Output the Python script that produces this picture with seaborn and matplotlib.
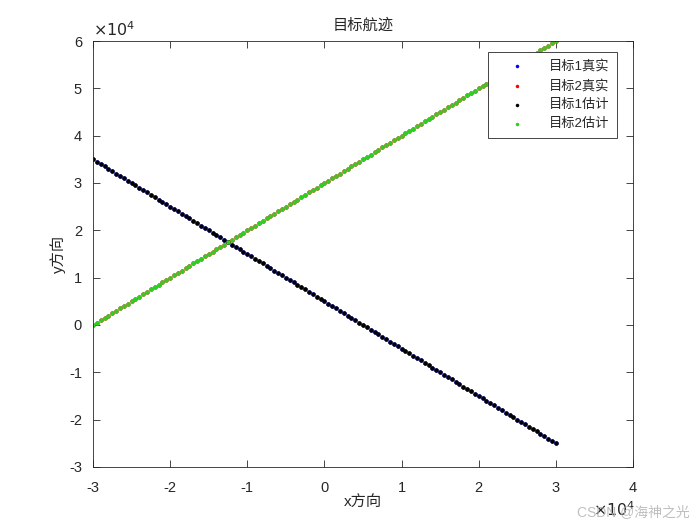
"""
目标航迹: true and estimated tracks of two targets (MATLAB-style figure).
"""
import matplotlib
matplotlib.use("Agg")

import matplotlib.pyplot as plt
import seaborn as sns

# =============================================================================
# Data (positions in units of 1e4 m)
# =============================================================================
x_track = [
    -3.00, -2.95, -2.90, -2.85, -2.80, -2.75, -2.70, -2.65, -2.60, -2.55,
    -2.50, -2.45, -2.40, -2.35, -2.30, -2.25, -2.20, -2.15, -2.10, -2.05,
    -2.00, -1.95, -1.90, -1.85, -1.80, -1.75, -1.70, -1.65, -1.60, -1.55,
    -1.50, -1.45, -1.40, -1.35, -1.30, -1.25, -1.20, -1.15, -1.10, -1.05,
    -1.00, -0.95, -0.90, -0.85, -0.80, -0.75, -0.70, -0.65, -0.60, -0.55,
    -0.50, -0.45, -0.40, -0.35, -0.30, -0.25, -0.20, -0.15, -0.10, -0.05,
    0.00, 0.05, 0.10, 0.15, 0.20, 0.25, 0.30, 0.35, 0.40, 0.45,
    0.50, 0.55, 0.60, 0.65, 0.70, 0.75, 0.80, 0.85, 0.90, 0.95,
    1.00, 1.05, 1.10, 1.15, 1.20, 1.25, 1.30, 1.35, 1.40, 1.45,
    1.50, 1.55, 1.60, 1.65, 1.70, 1.75, 1.80, 1.85, 1.90, 1.95,
    2.00, 2.05, 2.10, 2.15, 2.20, 2.25, 2.30, 2.35, 2.40, 2.45,
    2.50, 2.55, 2.60, 2.65, 2.70, 2.75, 2.80, 2.85, 2.90, 2.95,
    3.00,
]

y_target1 = [
    3.50, 3.45, 3.40, 3.35, 3.30, 3.25, 3.20, 3.15, 3.10, 3.05,
    3.00, 2.95, 2.90, 2.85, 2.80, 2.75, 2.70, 2.65, 2.60, 2.55,
    2.50, 2.45, 2.40, 2.35, 2.30, 2.25, 2.20, 2.15, 2.10, 2.05,
    2.00, 1.95, 1.90, 1.85, 1.80, 1.75, 1.70, 1.65, 1.60, 1.55,
    1.50, 1.45, 1.40, 1.35, 1.30, 1.25, 1.20, 1.15, 1.10, 1.05,
    1.00, 0.95, 0.90, 0.85, 0.80, 0.75, 0.70, 0.65, 0.60, 0.55,
    0.50, 0.45, 0.40, 0.35, 0.30, 0.25, 0.20, 0.15, 0.10, 0.05,
    0.00, -0.05, -0.10, -0.15, -0.20, -0.25, -0.30, -0.35, -0.40, -0.45,
    -0.50, -0.55, -0.60, -0.65, -0.70, -0.75, -0.80, -0.85, -0.90, -0.95,
    -1.00, -1.05, -1.10, -1.15, -1.20, -1.25, -1.30, -1.35, -1.40, -1.45,
    -1.50, -1.55, -1.60, -1.65, -1.70, -1.75, -1.80, -1.85, -1.90, -1.95,
    -2.00, -2.05, -2.10, -2.15, -2.20, -2.25, -2.30, -2.35, -2.40, -2.45,
    -2.50,
]

y_target2 = [
    0.00, 0.05, 0.10, 0.15, 0.20, 0.25, 0.30, 0.35, 0.40, 0.45,
    0.50, 0.55, 0.60, 0.65, 0.70, 0.75, 0.80, 0.85, 0.90, 0.95,
    1.00, 1.05, 1.10, 1.15, 1.20, 1.25, 1.30, 1.35, 1.40, 1.45,
    1.50, 1.55, 1.60, 1.65, 1.70, 1.75, 1.80, 1.85, 1.90, 1.95,
    2.00, 2.05, 2.10, 2.15, 2.20, 2.25, 2.30, 2.35, 2.40, 2.45,
    2.50, 2.55, 2.60, 2.65, 2.70, 2.75, 2.80, 2.85, 2.90, 2.95,
    3.00, 3.05, 3.10, 3.15, 3.20, 3.25, 3.30, 3.35, 3.40, 3.45,
    3.50, 3.55, 3.60, 3.65, 3.70, 3.75, 3.80, 3.85, 3.90, 3.95,
    4.00, 4.05, 4.10, 4.15, 4.20, 4.25, 4.30, 4.35, 4.40, 4.45,
    4.50, 4.55, 4.60, 4.65, 4.70, 4.75, 4.80, 4.85, 4.90, 4.95,
    5.00, 5.05, 5.10, 5.15, 5.20, 5.25, 5.30, 5.35, 5.40, 5.45,
    5.50, 5.55, 5.60, 5.65, 5.70, 5.75, 5.80, 5.85, 5.90, 5.95,
    6.00,
]

# estimates sit on top of the true tracks (errors smaller than a dot)
series_labels = ["目标1真实", "目标2真实", "目标1估计", "目标2估计"]
series_colors = ["#0000ff", "#ff0000", "#000000", "#33cc22"]

x_ticks = [-3, -2, -1, 0, 1, 2, 3, 4]
y_ticks = [-3, -2, -1, 0, 1, 2, 3, 4, 5, 6]

# =============================================================================
# Plot
# =============================================================================
sns.set_theme(style="ticks")
plt.rcParams["font.family"] = ["Liberation Sans", "Noto Sans CJK SC"]
plt.rcParams["axes.unicode_minus"] = False
plt.rcParams["axes.edgecolor"] = "#262626"
plt.rcParams["axes.linewidth"] = 0.6

fig = plt.figure(figsize=(7, 5.25), dpi=100)
ax = fig.add_axes([0.1329, 0.1105, 0.7714, 0.8114])

tracks = [y_target1, y_target2, y_target1, y_target2]
for y_vals, label, color in zip(tracks, series_labels, series_colors):
    sns.scatterplot(x=x_track, y=y_vals, color=color, s=10, linewidth=0,
                    label=label, ax=ax)

ax.set_xlim(-3, 4)
ax.set_ylim(-3, 6)
ax.set_xticks(x_ticks)
ax.set_yticks(y_ticks)
ax.tick_params(axis="x", pad=10)
ax.tick_params(direction="in", length=5, width=0.6, top=True, right=True,
               labelsize=10.5, colors="#262626")
ax.tick_params(axis="y", pad=8)

ax.set_title("目标航迹", fontsize=11, color="#262626", pad=8)
ax.set_xlabel("x方向", fontsize=11, color="#262626", labelpad=1)
ax.set_ylabel("y方向", fontsize=11, color="#262626", labelpad=2)

# MATLAB-style exponent labels
ax.text(0.0, 1.005, r"$\times10^{4}$", transform=ax.transAxes, ha="left",
        va="bottom", fontsize=11.5, color="#262626")
fig.text(0.908, 0.012, r"$\times10^{4}$", ha="right", va="bottom",
         fontsize=11.5, color="#262626")
fig.text(0.985, 0.012, "CSDN @海神之光", ha="right", va="bottom",
         fontsize=10, color="#b8b8b8", alpha=0.9)

leg = ax.legend(loc="upper right", bbox_to_anchor=(0.8814, 0.9010),
                bbox_transform=fig.transFigure, borderaxespad=0,
                fontsize=9.5, frameon=True, fancybox=False, framealpha=1,
                edgecolor="#262626", markerscale=0.8, handletextpad=0.8,
                borderpad=0.6, labelspacing=0.5, handlelength=3.2)
leg.get_frame().set_linewidth(0.6)

fig.savefig("out.png", dpi=100)
plt.close(fig)
